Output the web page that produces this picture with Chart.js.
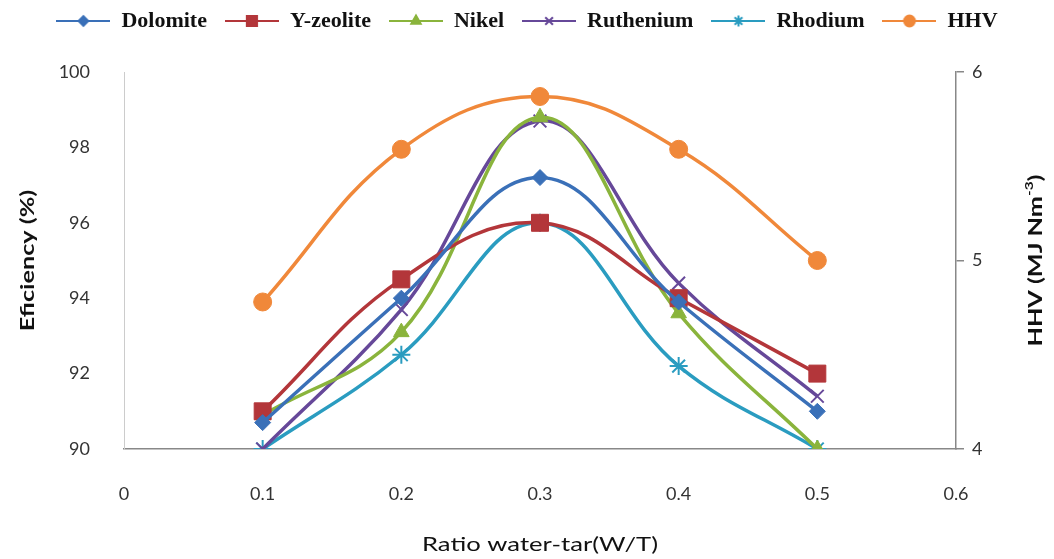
<!DOCTYPE html>
<html>
<head>
<meta charset="utf-8">
<script src="https://cdn.jsdelivr.net/npm/chart.js@4.4.1/dist/chart.umd.min.js"></script>
<style>
html, body { margin: 0; padding: 0; background: #fff; }
</style>
</head>
<body>
<canvas id="myChart" width="1054" height="559"></canvas>
<script>
// data
const ratios = [0.1, 0.2, 0.3, 0.4, 0.5];
const dolomite = [90.7, 94.0, 97.2, 93.9, 91.0];
const yZeolite = [91.0, 94.5, 96.0, 94.0, 92.0];
const nikel = [90.9, 93.1, 98.8, 93.6, 90.0];
const ruthenium = [90.0, 93.7, 98.7, 94.4, 91.4];
const rhodium = [90.0, 92.5, 96.0, 92.2, 90.0];
const hhv = [4.78, 5.59, 5.87, 5.59, 5.0];

const xTicks = [0, 0.1, 0.2, 0.3, 0.4, 0.5, 0.6];
const leftTicks = [90, 92, 94, 96, 98, 100];
const rightTicks = [4, 5, 6];

function points(values) {
    return values.map((v, i) => ({ x: ratios[i], y: v }));
}

// small canvas for the legend: line with the marker in the middle
function legendIcon(color, style, radius) {
    const c = document.createElement('canvas');
    c.width = 54;
    c.height = 20;
    const ctx = c.getContext('2d');
    ctx.strokeStyle = color;
    ctx.fillStyle = color;
    ctx.lineWidth = 2;
    ctx.beginPath();
    ctx.moveTo(0, 10);
    ctx.lineTo(54, 10);
    ctx.stroke();
    Chart.helpers.drawPoint(ctx, { pointStyle: style, radius: radius, borderWidth: 1.5 }, 27, 10);
    return c;
}

function series(label, values, color, style, radius, axis) {
    return {
        label: label,
        data: points(values),
        borderColor: color,
        backgroundColor: color,
        borderWidth: 3.5,
        tension: 0.4,
        pointStyle: style,
        pointRadius: radius,
        pointBorderWidth: (style === 'crossRot' || style === 'star') ? 2 : 1,
        yAxisID: axis,
        icon: legendIcon(color, style, radius * 0.6)
    };
}

const datasets = [
    series('Dolomite', dolomite, '#3A70B8', 'rectRot', 8, 'y'),
    series('Y-zeolite', yZeolite, '#B3363A', 'rect', 12, 'y'),
    series('Nikel', nikel, '#8AB43C', 'triangle', 9, 'y'),
    series('Ruthenium', ruthenium, '#664899', 'crossRot', 9, 'y'),
    series('Rhodium', rhodium, '#2A9CC0', 'star', 9, 'y'),
    series('HHV', hhv, '#F0883A', 'circle', 9, 'y1')
];

// axis titles, a bit stretched along the text like the original
const axisTitles = {
    id: 'axisTitles',
    afterDraw(chart) {
        const ctx = chart.ctx;
        const area = chart.chartArea;
        const midY = (area.top + area.bottom) / 2;
        ctx.save();
        ctx.fillStyle = '#111';
        ctx.textBaseline = 'middle';

        // left
        ctx.save();
        ctx.translate(28, midY);
        ctx.rotate(-Math.PI / 2);
        ctx.scale(1.4, 1);
        ctx.font = 'bold 18px Lato';
        ctx.textAlign = 'center';
        ctx.fillText('Eficiency (%)', 0, 0);
        ctx.restore();

        // right, with superscript
        ctx.save();
        ctx.translate(1036, midY);
        ctx.rotate(-Math.PI / 2);
        ctx.scale(1.4, 1);
        ctx.font = 'bold 18px Lato';
        const a = 'HHV (MJ Nm';
        const c = ')';
        const wa = ctx.measureText(a).width;
        const wc = ctx.measureText(c).width;
        ctx.font = 'bold 11px Lato';
        const wb = ctx.measureText('-3').width;
        let x = -(wa + wb + wc) / 2;
        ctx.textAlign = 'left';
        ctx.font = 'bold 18px Lato';
        ctx.fillText(a, x, 0);
        ctx.font = 'bold 11px Lato';
        ctx.fillText('-3', x + wa, -7);
        ctx.font = 'bold 18px Lato';
        ctx.fillText(c, x + wa + wb, 0);
        ctx.restore();

        // bottom
        ctx.save();
        ctx.translate((area.left + area.right) / 2, 545);
        ctx.scale(1.35, 1);
        ctx.font = '19px Lato';
        ctx.textAlign = 'center';
        ctx.fillText('Ratio water-tar(W/T)', 0, 0);
        ctx.restore();
        ctx.restore();
    }
};

const tickFont = { family: 'Lato', size: 18 };

const config = {
    type: 'line',
    data: { datasets: datasets },
    options: {
        responsive: false,
        animation: false,
        layout: { padding: { top: -8, left: 0, right: 0, bottom: 0 } },
        plugins: {
            tooltip: { enabled: false },
            // empty title used as a gap between legend and plot
            title: {
                display: true,
                text: '',
                position: 'top',
                weight: 500,
                padding: 0,
                font: { size: 10, lineHeight: 3.0 }
            },
            legend: {
                position: 'top',
                labels: {
                    usePointStyle: true,
                    pointStyleWidth: 54,
                    padding: 18,
                    color: '#111',
                    font: { family: 'Liberation Serif', size: 22, weight: 'bold' },
                    generateLabels(chart) {
                        return chart.data.datasets.map((ds, i) => ({
                            text: ds.label,
                            pointStyle: ds.icon,
                            fillStyle: ds.borderColor,
                            strokeStyle: ds.borderColor,
                            lineWidth: 0,
                            hidden: false,
                            datasetIndex: i,
                            fontColor: '#111'
                        }));
                    }
                }
            }
        },
        scales: {
            x: {
                type: 'linear',
                min: 0,
                max: 0.6,
                afterBuildTicks(s) { s.ticks = xTicks.map(v => ({ value: v })); },
                afterFit(s) { s.height = 110; },
                ticks: { font: tickFont, color: '#333', padding: 34, callback: v => String(v) },
                grid: { drawOnChartArea: false, drawTicks: false },
                border: { color: '#888', width: 1.5 }
            },
            y: {
                position: 'left',
                min: 90,
                max: 100,
                afterBuildTicks(s) { s.ticks = leftTicks.map(v => ({ value: v })); },
                afterFit(s) { s.width = 124; },
                ticks: { font: tickFont, color: '#333', padding: 26 },
                grid: { display: false },
                border: { color: '#ccc', width: 1 }
            },
            y1: {
                position: 'right',
                min: 4,
                max: 6,
                afterBuildTicks(s) { s.ticks = rightTicks.map(v => ({ value: v })); },
                afterFit(s) { s.width = 98; },
                ticks: { font: tickFont, color: '#333', padding: 8 },
                grid: { drawOnChartArea: false, tickLength: 8, color: '#888', lineWidth: 1.5 },
                border: { color: '#888', width: 1.5 }
            }
        }
    },
    plugins: [axisTitles]
};

const myChart = new Chart(document.getElementById('myChart').getContext('2d'), config);
</script>
</body>
</html>
